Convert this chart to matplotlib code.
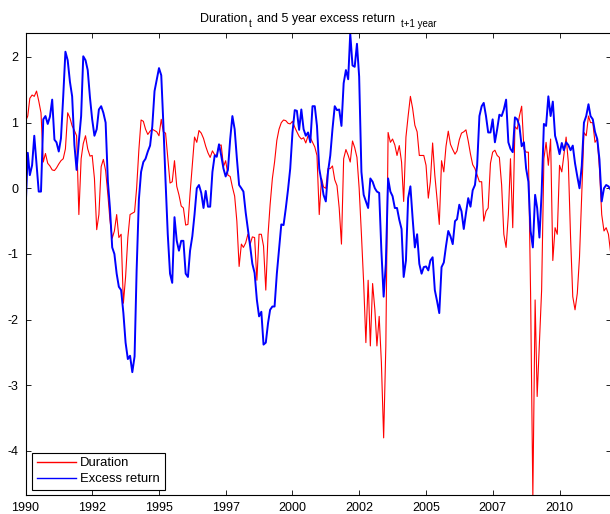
import numpy as np
import pandas as pd
import matplotlib
matplotlib.use("Agg")
import matplotlib.pyplot as plt
from datetime import datetime

plt.rcParams['font.family'] = ['Liberation Sans', 'DejaVu Sans']
plt.rcParams['axes.unicode_minus'] = False

# Monthly values, Jan 1990 .. Dec 2011 (one row per year)
duration = [
    1.02, 1.10, 1.37, 1.42, 1.40, 1.48, 1.33, 1.15, 0.40, 0.53, 0.38, 0.34,
    0.28, 0.27, 0.31, 0.37, 0.42, 0.45, 0.60, 1.15, 1.07, 0.95, 0.88, 0.80,
    -0.40, 0.45, 0.68, 0.80, 0.60, 0.49, 0.50, 0.15, -0.63, -0.40, 0.33, 0.44,
    0.27, -0.10, -0.48, -0.76, -0.65, -0.40, -0.75, -0.70, -1.75, -1.35, -0.75, -0.40,
    -0.38, -0.36, 0.00, 0.59, 1.04, 1.02, 0.90, 0.82, 0.87, 0.90, 0.88, 0.86,
    0.80, 1.05, 0.86, 0.84, 0.47, 0.08, 0.10, 0.42, 0.03, -0.10, -0.27, -0.30,
    -0.56, -0.55, -0.08, 0.36, 0.78, 0.70, 0.88, 0.84, 0.76, 0.64, 0.54, 0.47,
    0.57, 0.51, 0.50, 0.65, 0.66, 0.33, 0.42, 0.20, 0.18, 0.02, -0.12, -0.50,
    -1.19, -0.85, -0.90, -0.83, -0.70, -0.85, -0.74, -0.75, -1.40, -0.70, -0.70, -0.88,
    -1.55, -0.70, -0.25, 0.15, 0.40, 0.73, 0.90, 1.00, 1.04, 1.03, 0.99, 0.98,
    1.02, 0.93, 0.86, 0.79, 0.75, 0.77, 0.69, 0.80, 0.77, 0.70, 0.63, 0.50,
    -0.40, 0.15, 0.02, 0.00, 0.30, 0.30, 0.34, 0.13, 0.04, -0.30, -0.85, 0.45,
    0.59, 0.50, 0.40, 0.72, 0.62, 0.47, 0.00, -0.70, -1.45, -2.35, -1.40, -2.40,
    -1.45, -1.85, -2.40, -1.95, -2.65, -3.80, -2.40, 0.85, 0.70, 0.75, 0.66, 0.50,
    0.65, 0.40, -0.20, 0.78, 1.10, 1.40, 1.22, 0.96, 0.86, 0.50, 0.50, 0.50,
    0.35, -0.15, 0.10, 0.69, 0.20, -0.17, -0.55, 0.42, 0.25, 0.64, 0.87, 0.67,
    0.59, 0.52, 0.57, 0.74, 0.84, 0.86, 0.89, 0.72, 0.52, 0.36, 0.30, 0.20,
    0.10, 0.10, -0.50, -0.35, -0.30, 0.38, 0.55, 0.58, 0.50, 0.47, 0.05, -0.70,
    -0.90, -0.40, 0.45, -0.60, 0.94, 0.90, 1.10, 1.25, 0.60, 0.55, 0.55, -1.60,
    -4.69, -1.70, -3.17, -2.35, -1.55, 0.45, 0.70, 0.35, 0.75, -1.10, -0.60, -0.70,
    0.35, 0.25, 0.50, 0.78, 0.40, -0.75, -1.65, -1.85, -1.60, -1.05, -0.10, 0.85,
    0.80, 1.10, 1.00, 1.00, 0.70, 0.75, 0.30, -0.40, -0.65, -0.60, -0.70, -0.98,
]

excess_return = [
    -0.35, 0.54, 0.20, 0.35, 0.80, 0.36, -0.05, -0.05, 1.05, 1.10, 0.98, 1.09,
    1.35, 0.74, 0.70, 0.56, 0.76, 1.40, 2.08, 1.95, 1.62, 1.40, 0.66, 0.28,
    0.72, 1.10, 2.01, 1.95, 1.80, 1.38, 1.05, 0.80, 0.90, 1.20, 1.25, 1.15,
    1.00, 0.10, -0.30, -0.90, -1.00, -1.30, -1.50, -1.55, -1.90, -2.35, -2.60, -2.55,
    -2.80, -2.56, -1.25, -0.17, 0.25, 0.40, 0.45, 0.56, 0.65, 0.94, 1.48, 1.65,
    1.83, 1.72, 1.00, 0.10, -0.70, -1.30, -1.44, -0.44, -0.80, -0.95, -0.80, -0.80,
    -1.30, -1.35, -0.95, -0.73, -0.40, 0.00, 0.05, -0.07, -0.30, -0.04, -0.28, -0.28,
    0.25, 0.50, 0.48, 0.67, 0.50, 0.30, 0.18, 0.28, 0.75, 1.10, 0.90, 0.46,
    0.05, 0.00, -0.05, -0.37, -0.62, -0.88, -1.15, -1.29, -1.70, -1.95, -1.88, -2.38,
    -2.35, -2.05, -1.85, -1.80, -1.80, -1.30, -0.93, -0.55, -0.56, -0.31, -0.02, 0.30,
    0.85, 1.19, 1.18, 0.89, 1.20, 0.90, 0.80, 0.85, 0.70, 1.25, 1.25, 0.95,
    0.30, 0.10, -0.10, -0.20, 0.25, 0.50, 0.90, 1.25, 1.19, 1.20, 0.95, 1.60,
    1.80, 1.66, 2.36, 1.87, 1.85, 2.20, 1.70, 0.25, -0.10, -0.20, -0.30, 0.15,
    0.10, 0.00, -0.05, -0.07, -0.95, -1.65, -1.15, 0.15, -0.05, -0.12, -0.30, -0.30,
    -0.48, -0.62, -1.35, -1.10, -0.15, 0.03, -0.45, -0.90, -0.70, -1.15, -1.30, -1.20,
    -1.19, -1.25, -1.10, -1.05, -1.55, -1.72, -1.90, -1.20, -1.13, -0.88, -0.65, -0.73,
    -0.85, -0.50, -0.47, -0.25, -0.35, -0.62, -0.38, -0.15, -0.28, -0.03, 0.05, 0.35,
    1.10, 1.25, 1.30, 1.10, 0.85, 0.85, 1.05, 0.70, 0.90, 1.12, 1.10, 1.20,
    1.35, 0.70, 0.60, 0.55, 1.08, 1.05, 0.95, 0.64, 0.70, 0.30, 0.10, -0.65,
    -0.90, -0.10, -0.30, -0.75, -0.07, 0.98, 0.95, 1.40, 1.10, 1.32, 0.80, 0.68,
    0.52, 0.69, 0.58, 0.70, 0.66, 0.58, 0.65, 0.38, 0.18, 0.00, 0.34, 1.00,
    1.10, 1.28, 1.10, 1.05, 0.86, 0.75, 0.44, -0.20, 0.00, 0.05, 0.03, -0.02,
]

dates = pd.date_range('1990-01-01', periods=len(duration), freq='MS')

tick_dates = [datetime(1990, 1, 1), datetime(1992, 7, 1), datetime(1995, 1, 1),
              datetime(1997, 7, 1), datetime(2000, 1, 1), datetime(2002, 7, 1),
              datetime(2005, 1, 1), datetime(2007, 7, 1), datetime(2010, 1, 1)]
tick_labels = ['1990', '1992', '1995', '1997', '2000', '2002', '2005', '2007', '2010']
y_ticks = [-4, -3, -2, -1, 0, 1, 2]

W, H = 610, 514
fig = plt.figure(figsize=(W / 100, H / 100), dpi=100)
ax = fig.add_axes([25.5 / W, 1 - 495 / H, (611 - 25.5) / W, (495 - 33.3) / H])

ax.plot(dates, duration, color=(1, 0, 0), lw=0.8, label='Duration')
ax.plot(dates, excess_return, color=(0, 0, 1), lw=1.4, label='Excess return')

ax.set_xlim(datetime(1990, 1, 1), datetime(2011, 12, 6))
ax.set_ylim(-4.67, 2.36)
ax.set_xticks(tick_dates)
ax.set_xticklabels(tick_labels)
ax.set_yticks(y_ticks)
ax.set_yticklabels([str(v) for v in y_ticks])

ax.tick_params(direction='in', top=True, right=True, length=3.6, width=0.6,
               labelsize=9, pad=5, colors='black')
for s in ax.spines.values():
    s.set_linewidth(0.8)
    s.set_color('black')

# Title built from pieces (main text and subscripts)
fig.text(200 / W, 1 - 22 / H, 'Duration', ha='left', va='baseline', fontsize=9)
fig.text(249 / W, 1 - 27 / H, 't', ha='left', va='baseline', fontsize=7)
fig.text(257 / W, 1 - 22 / H, 'and 5 year excess return', ha='left', va='baseline', fontsize=9)
fig.text(401 / W, 1 - 27 / H, 't+1 year', ha='left', va='baseline', fontsize=7)

leg = ax.legend(loc='lower left', bbox_to_anchor=(0.0111, 0.0108), borderaxespad=0,
                fontsize=9.4, frameon=True, fancybox=False, borderpad=0.35,
                handlelength=3.0, handletextpad=0.35, labelspacing=0.3)
leg.get_frame().set_edgecolor('black')
leg.get_frame().set_linewidth(0.8)
leg.get_frame().set_alpha(1)
for line in leg.get_lines():
    line.set_linewidth(1.0)

fig.savefig('out.png', dpi=100)
